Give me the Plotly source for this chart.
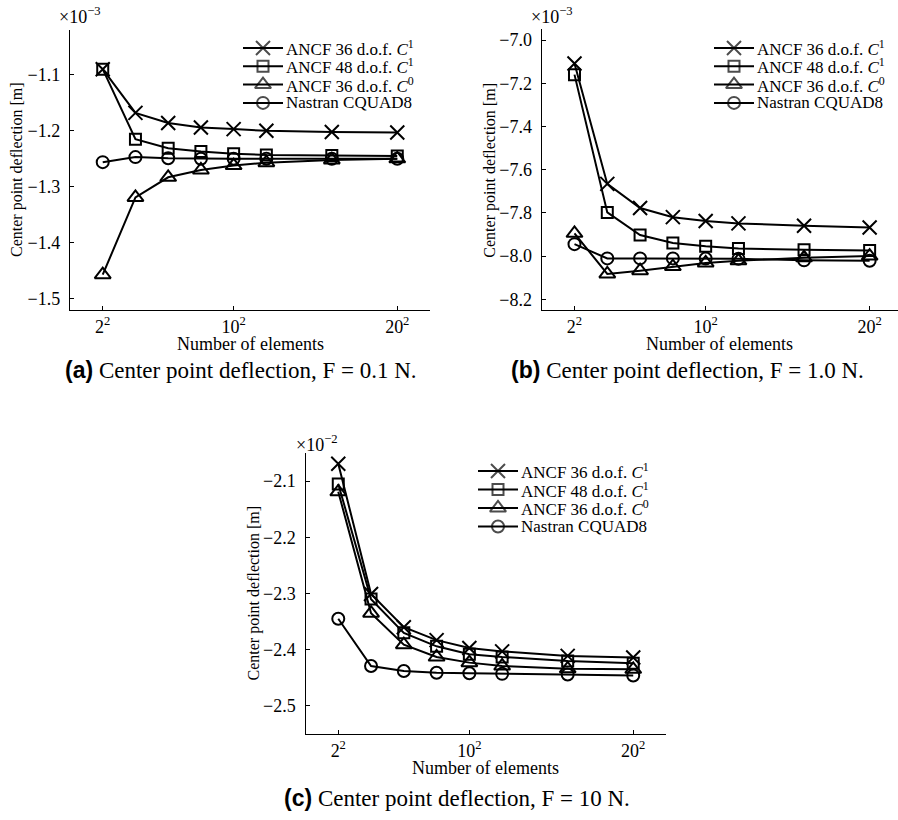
import plotly.graph_objects as go

W, H = 898, 820
FONT = "Liberation Serif"

# ---------------- data ----------------
n_side = [2, 4, 6, 8, 10, 12, 16, 20]          # sqrt(number of elements)
x_tickvals = [2, 10, 20]
x_ticktext = ["2<sup>2</sup>", "10<sup>2</sup>", "20<sup>2</sup>"]

series_names = [
    "ANCF 36 d.o.f. <i>C</i><sup>1</sup>",
    "ANCF 48 d.o.f. <i>C</i><sup>1</sup>",
    "ANCF 36 d.o.f. <i>C</i><sup>0</sup>",
    "Nastran CQUAD8",
]
series_symbols = ["x-thin-open", "square-open", "triangle-up-open", "circle-open"]
series_sizes = [14, 11, 14, 12]

# panel (a), F = 0.1 N, values x 1e-3 m
a_ancf36_c1 = [-1.090, -1.168, -1.186, -1.194, -1.197, -1.200, -1.202, -1.203]
a_ancf48_c1 = [-1.090, -1.215, -1.231, -1.237, -1.241, -1.243, -1.244, -1.245]
a_ancf36_c0 = [-1.457, -1.319, -1.283, -1.270, -1.262, -1.257, -1.252, -1.250]
a_nastran = [-1.256, -1.247, -1.249, -1.250, -1.250, -1.250, -1.250, -1.250]
a_yticks = [-1.5, -1.4, -1.3, -1.2, -1.1]

# panel (b), F = 1.0 N, values x 1e-3 m
b_ancf36_c1 = [-7.108, -7.666, -7.778, -7.820, -7.838, -7.849, -7.860, -7.868]
b_ancf48_c1 = [-7.160, -7.798, -7.903, -7.940, -7.955, -7.965, -7.971, -7.974]
b_ancf36_c0 = [-7.895, -8.083, -8.068, -8.049, -8.032, -8.022, -8.008, -8.000]
b_nastran = [-7.945, -8.011, -8.011, -8.011, -8.012, -8.013, -8.020, -8.022]
b_yticks = [-8.2, -8.0, -7.8, -7.6, -7.4, -7.2, -7.0]

# panel (c), F = 10 N, values x 1e-2 m
c_ancf36_c1 = [-2.069, -2.301, -2.360, -2.383, -2.397, -2.403, -2.411, -2.414]
c_ancf48_c1 = [-2.105, -2.310, -2.370, -2.394, -2.408, -2.413, -2.420, -2.424]
c_ancf36_c0 = [-2.119, -2.335, -2.391, -2.413, -2.423, -2.429, -2.434, -2.435]
c_nastran = [-2.345, -2.429, -2.438, -2.441, -2.442, -2.443, -2.444, -2.446]
c_yticks = [-2.5, -2.4, -2.3, -2.2, -2.1]

captions = [
    ("(a)", "Center point deflection, F = 0.1 N."),
    ("(b)", "Center point deflection, F = 1.0 N."),
    ("(c)", "Center point deflection, F = 10 N."),
]
exponents = ["−3", "−3", "−2"]


# ---------------- layout helpers ----------------
def fx(px):
    return px / W


def fy(py):
    return 1 - py / H


panels = [
    dict(box=(70, 430, 30, 310), xr=[0, 22], yr=[-1.52, -1.02],
         data=[a_ancf36_c1, a_ancf48_c1, a_ancf36_c0, a_nastran], yt=a_yticks,
         leg=(243, 283, 48, 18.3), cap=(241, 370), exp=(57, 15), ytitle_x=17),
    dict(box=(541.7, 898, 29.3, 310), xr=[0, 21.73], yr=[-8.25, -6.95],
         data=[b_ancf36_c1, b_ancf48_c1, b_ancf36_c0, b_nastran], yt=b_yticks,
         leg=(714, 754, 48, 18.3), cap=(687, 370), exp=(529, 15), ytitle_x=490),
    dict(box=(305.5, 666, 453, 734), xr=[0, 22], yr=[-2.55, -2.05],
         data=[c_ancf36_c1, c_ancf48_c1, c_ancf36_c0, c_nastran], yt=c_yticks,
         leg=(478, 518, 471, 18.5), cap=(457, 798), exp=(294, 443), ytitle_x=253),
]

fig = go.Figure()
layout = dict(
    width=W, height=H, margin=dict(l=0, r=0, t=0, b=0),
    paper_bgcolor="white", plot_bgcolor="white", showlegend=False,
    font=dict(family=FONT, color="black", size=17),
)
annotations = []
LW = 2.0

for k, p in enumerate(panels):
    xi = "" if k == 0 else str(k + 1)
    x0, x1, yt, yb = p["box"]
    layout["xaxis" + xi] = dict(
        domain=[fx(x0), fx(x1)], range=p["xr"], anchor="y" + xi,
        tickvals=x_tickvals, ticktext=x_ticktext,
        showline=True, linecolor="black", linewidth=1.3,
        ticks="inside", ticklen=4, tickcolor="black", tickwidth=1,
        showgrid=False, zeroline=False, fixedrange=True,
        tickfont=dict(family=FONT, size=18, color="black"),
    )
    layout["yaxis" + xi] = dict(
        domain=[fy(yb), fy(yt)], range=p["yr"], anchor="x" + xi,
        tickvals=p["yt"], tickformat=".1f",
        showline=True, linecolor="black", linewidth=1.3,
        ticks="inside", ticklen=4, tickcolor="black", tickwidth=1,
        showgrid=False, zeroline=False, fixedrange=True, ticklabelstandoff=5,
        tickfont=dict(family=FONT, size=18, color="black"),
    )
    for s in range(4):
        fig.add_trace(go.Scatter(
            x=n_side, y=p["data"][s], mode="lines+markers",
            xaxis="x" + xi, yaxis="y" + xi, cliponaxis=False,
            line=dict(color="black", width=LW),
            marker=dict(symbol=series_symbols[s], size=series_sizes[s],
                        color="black", line=dict(color="black", width=LW)),
            name=series_names[s],
        ))
    # axis titles
    annotations.append(dict(
        text="Number of elements", xref="paper", yref="paper",
        x=fx((x0 + min(x1, x0 + 360.5)) / 2), y=fy(yb + 34),
        xanchor="center", yanchor="middle", showarrow=False,
        font=dict(family=FONT, size=18, color="black")))
    annotations.append(dict(
        text="Center point deflection [m]", xref="paper", yref="paper",
        x=fx(p["ytitle_x"]), y=fy((yt + yb) / 2), textangle=-90,
        xanchor="center", yanchor="middle", showarrow=False,
        font=dict(family=FONT, size=16, color="black")))
    # exponent label
    ex, ey = p["exp"]
    annotations.append(dict(
        text="×10<sup>" + exponents[k] + "</sup>", xref="paper", yref="paper",
        x=fx(ex), y=fy(ey), xanchor="left", yanchor="middle", showarrow=False,
        font=dict(family=FONT, size=18, color="black")))
    # caption
    cx, cy = p["cap"]
    lab, txt = captions[k]
    annotations.append(dict(
        text="<span style=\"font-family:'Liberation Sans'\"><b>" + lab + "</b></span> " + txt,
        xref="paper", yref="paper", x=fx(cx), y=fy(cy),
        xanchor="center", yanchor="middle", showarrow=False,
        font=dict(family=FONT, size=23, color="black")))

    # legend (overlay axes, row index units)
    li = str(k + 4)
    lx0, lx1, ly0, ls = p["leg"]
    layout["xaxis" + li] = dict(domain=[fx(lx0), fx(lx1)], range=[0, 1],
                                visible=False, fixedrange=True, anchor="y" + li)
    layout["yaxis" + li] = dict(domain=[fy(ly0 + 3.5 * ls), fy(ly0 - 0.5 * ls)],
                                range=[3.5, -0.5], visible=False, fixedrange=True,
                                anchor="x" + li)
    for s in range(4):
        fig.add_trace(go.Scatter(
            x=[0, 0.5, 1], y=[s, s, s], mode="lines+markers",
            xaxis="x" + li, yaxis="y" + li, cliponaxis=False, hoverinfo="skip",
            line=dict(color="black", width=LW),
            marker=dict(symbol=series_symbols[s], size=[0, series_sizes[s], 0],
                        color="black", line=dict(color="black", width=LW)),
        ))
        annotations.append(dict(
            text=series_names[s], xref="x" + li, yref="y" + li, x=1, y=s,
            xanchor="left", yanchor="middle", xshift=1, showarrow=False,
            font=dict(family=FONT, size=17, color="black")))

layout["annotations"] = annotations
fig.update_layout(**layout)
fig.write_html("out.html")
